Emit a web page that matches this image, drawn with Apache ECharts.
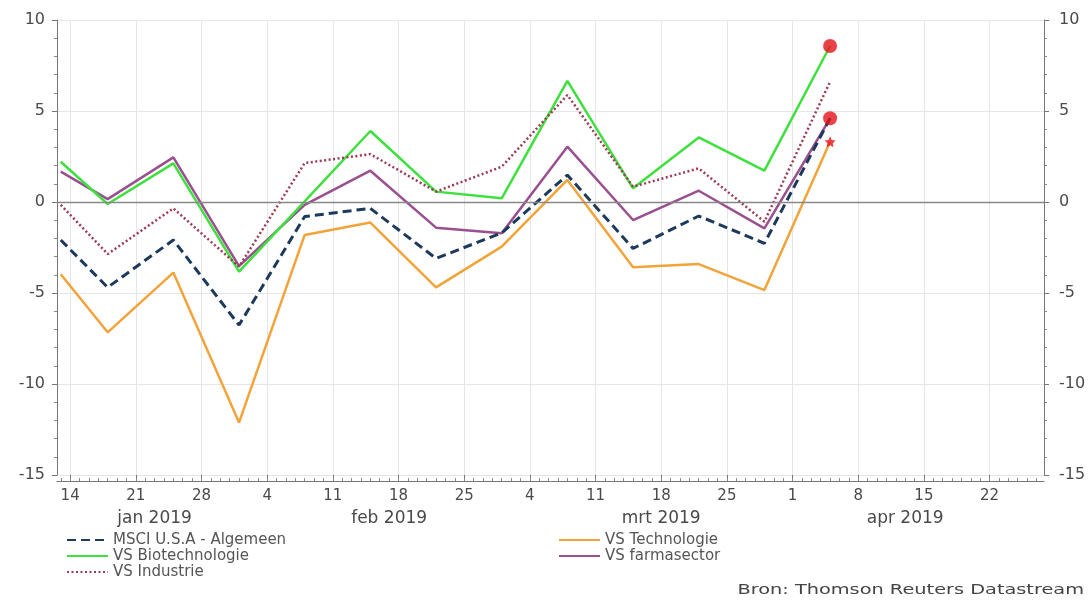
<!DOCTYPE html>
<html><head><meta charset="utf-8">
<script src="https://cdn.jsdelivr.net/npm/echarts@6/dist/echarts.min.js"></script>
<style>html,body{margin:0;padding:0;background:#fff}#c{width:1092px;height:600px}</style>
</head><body><div id="c"></div>
<script>
// ---- data ----
const dates = ['2019-01-13','2019-01-18','2019-01-25','2019-02-01','2019-02-08','2019-02-15','2019-02-22','2019-03-01','2019-03-08','2019-03-15','2019-03-22','2019-03-29','2019-04-05'];
const msci      = [-2.09, -4.69, -2.09, -6.76, -0.80, -0.35, -3.10, -1.70, 1.48, -2.55, -0.77, -2.27, 4.60];
const techno    = [-3.97, -7.16, -3.88, -12.12, -1.81, -1.13, -4.69, -2.45, 1.21, -3.59, -3.41, -4.84, 3.31];
const biotech   = [2.21, -0.11, 2.12, -3.83, 0.03, 3.90, 0.57, 0.20, 6.65, 0.75, 3.55, 1.72, 8.57];
const farma     = [1.67, 0.16, 2.45, -3.52, -0.16, 1.72, -1.41, -1.72, 3.04, -0.99, 0.62, -1.45, 4.60];
const industrie = [-0.16, -2.86, -0.35, -3.55, 2.14, 2.63, 0.57, 1.94, 5.88, 0.84, 1.85, -1.08, 6.61];

const weekTickDates  = ['2019-01-14','2019-01-21','2019-01-28','2019-02-04','2019-02-11','2019-02-18','2019-02-25','2019-03-04','2019-03-11','2019-03-18','2019-03-25','2019-04-01','2019-04-08','2019-04-15','2019-04-22'];
const weekTickLabels = ['14','21','28','4','11','18','25','4','11','18','25','1','8','15','22'];
const monthLabels     = ['jan 2019','feb 2019','mrt 2019','apr 2019'];
const monthLabelDates = ['2019-01-23','2019-02-17','2019-03-18','2019-04-13'];
const seriesNames = ['MSCI U.S.A - Algemeen','VS Technologie','VS Biotechnologie','VS farmasector','VS Industrie'];
const sourceText = 'Bron: Thomson Reuters Datastream';

// ---- helpers ----
const ORIGIN = Date.UTC(2019, 0, 14);
const day = s => (Date.parse(s + 'T00:00:00Z') - ORIGIN) / 86400000;
const xs = dates.map(day);
const weekVals = weekTickDates.map(day);
const monthVals = monthLabelDates.map(day);
const pts = arr => arr.map((v, i) => [xs[i], v]);
const last = arr => [xs[xs.length - 1], arr[arr.length - 1]];
const X_MIN = -1.4, X_MAX = 103.8;
const dailyVals = [];
for (let d = Math.ceil(X_MIN); d <= X_MAX; d++) dailyVals.push(d);

const FONT = '"DejaVu Sans", Verdana, sans-serif';
const TXT = '#4a4a4a';

const chart = echarts.init(document.getElementById('c'), null, {renderer: 'canvas'});

const lineBase = {type: 'line', symbol: 'none', xAxisIndex: 0, yAxisIndex: 0, clip: true, z: 3};

const legendCommon = {
  orient: 'vertical', top: 532, padding: 0, itemGap: 0,
  itemWidth: 41, itemHeight: 14,
  itemStyle: {color: 'transparent', borderWidth: 0, opacity: 0},
  textStyle: {color: '#555', fontSize: 15, lineHeight: 16, fontFamily: FONT}
};

chart.setOption({
  animation: false,
  backgroundColor: '#fff',
  textStyle: {fontFamily: FONT},
  grid: {left: 57, right: 48, top: 20, bottom: 125, containLabel: false},
  xAxis: [
    {
      type: 'value', min: X_MIN, max: X_MAX, position: 'bottom', offset: 6,
      axisLine: {show: true, onZero: false, lineStyle: {color: '#777', width: 1}},
      axisTick: {show: true, inside: true, length: 6, customValues: weekVals, lineStyle: {color: '#777'}},
      axisLabel: {
        show: true, customValues: weekVals, margin: 8, color: TXT, fontSize: 15, fontFamily: FONT,
        formatter: v => { const i = weekVals.findIndex(w => Math.abs(w - v) < 1e-6); return i >= 0 ? weekTickLabels[i] : ''; }
      },
      splitLine: {show: true, lineStyle: {color: '#e6e6e6', width: 1}}
    },
    {
      type: 'value', min: X_MIN, max: X_MAX, position: 'bottom', offset: 6,
      axisLine: {show: false, onZero: false},
      axisTick: {show: true, inside: true, length: 3, customValues: dailyVals, lineStyle: {color: '#888'}},
      axisLabel: {show: false},
      splitLine: {show: false}
    },
    {
      type: 'value', min: X_MIN, max: X_MAX, position: 'bottom', offset: 6,
      axisLine: {show: false, onZero: false},
      axisTick: {show: false},
      axisLabel: {
        show: true, customValues: monthVals, margin: 29, color: TXT, fontSize: 17, fontFamily: FONT,
        formatter: v => { const i = monthVals.findIndex(w => Math.abs(w - v) < 1e-6); return i >= 0 ? monthLabels[i] : ''; }
      },
      splitLine: {show: false}
    }
  ],
  yAxis: [
    {
      type: 'value', min: -15, max: 10, interval: 5, position: 'left',
      axisLine: {show: true, onZero: false, lineStyle: {color: '#777'}},
      axisTick: {show: true, length: 5, lineStyle: {color: '#777'}},
      minorTick: {show: true, splitNumber: 5, length: 3, lineStyle: {color: '#888'}},
      axisLabel: {margin: 12, color: TXT, fontSize: 16, fontFamily: FONT},
      splitLine: {show: true, lineStyle: {color: '#e6e6e6', width: 1}}
    },
    {
      type: 'value', min: -15, max: 10, interval: 5, position: 'right',
      axisLine: {show: true, onZero: false, lineStyle: {color: '#777'}},
      axisTick: {show: true, length: 5, lineStyle: {color: '#777'}},
      minorTick: {show: true, splitNumber: 5, length: 3, lineStyle: {color: '#888'}},
      axisLabel: {margin: 15, color: TXT, fontSize: 16, fontFamily: FONT},
      splitLine: {show: false}
    }
  ],
  legend: [
    Object.assign({}, legendCommon, {data: [seriesNames[0], seriesNames[2], seriesNames[4]], left: 66}),
    Object.assign({}, legendCommon, {data: [seriesNames[1], seriesNames[3]], left: 558})
  ],
  graphic: [{
    type: 'text', x: 1084, y: 590, scaleX: 1.38,
    style: {text: sourceText, fill: '#444', font: '14px ' + FONT, align: 'right', verticalAlign: 'middle'}
  }],
  series: [
    Object.assign({}, lineBase, {
      name: seriesNames[1], data: pts(techno), color: '#f2a33a',
      lineStyle: {color: '#f2a33a', width: 2.5},
      markLine: {silent: true, symbol: 'none', label: {show: false}, animation: false,
        lineStyle: {color: '#888', width: 1.3, type: 'solid'}, data: [{yAxis: 0}]}
    }),
    Object.assign({}, lineBase, {
      name: seriesNames[3], data: pts(farma), color: '#9a4f8e',
      lineStyle: {color: '#9a4f8e', width: 2.5}
    }),
    Object.assign({}, lineBase, {
      name: seriesNames[2], data: pts(biotech), color: '#3ee03e',
      lineStyle: {color: '#3ee03e', width: 2.5}
    }),
    Object.assign({}, lineBase, {
      name: seriesNames[4], data: pts(industrie), color: '#9b3a52',
      lineStyle: {color: '#9b3a52', width: 2.5, type: [2, 2.5]}
    }),
    Object.assign({}, lineBase, {
      name: seriesNames[0], data: pts(msci), color: '#1d3a5c',
      lineStyle: {color: '#1d3a5c', width: 3, type: [9, 5]}
    }),
    {
      type: 'scatter', name: 'einde', data: [last(biotech), last(msci)],
      symbol: 'circle', symbolSize: 14, itemStyle: {color: '#e3141b'}, z: 5, silent: true
    },
    {
      type: 'scatter', name: 'einde2', data: [last(techno)],
      symbol: 'path://M0,-10 L2.9,-4 L9.5,-3.1 L4.7,1.5 L5.9,8.1 L0,5 L-5.9,8.1 L-4.7,1.5 L-9.5,-3.1 L-2.9,-4 Z',
      symbolSize: 11, itemStyle: {color: '#e3141b'}, z: 5, silent: true
    }
  ]
});
</script>
</body></html>
